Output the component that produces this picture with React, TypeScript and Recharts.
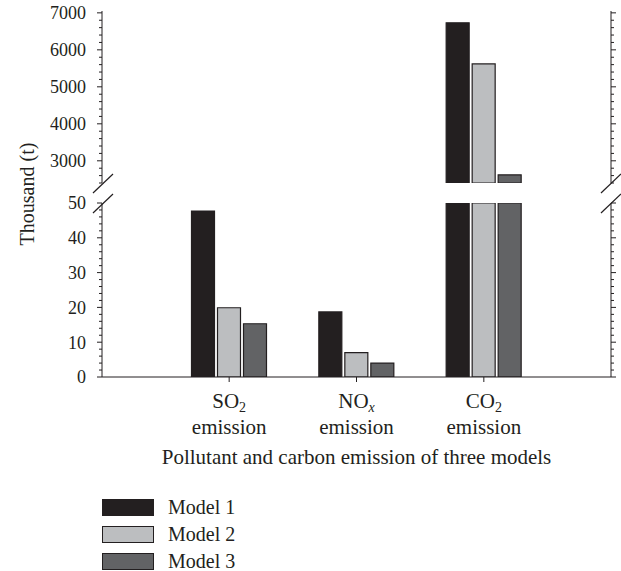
import { Bar, BarChart, XAxis, YAxis } from 'recharts';

// emission per model, thousand tonnes
const categories = ['SO2', 'NOx', 'CO2'];
const model1 = [47.7, 18.7, 6730];
const model2 = [19.9, 7.0, 5620];
const model3 = [15.3, 4.0, 2620];

const lowerLabels = [0, 10, 20, 30, 40, 50];
const upperLabels = [3000, 4000, 5000, 6000, 7000];

// broken axis
const LOWER_MAX = 50;
const UPPER_MIN = 2400;
const UPPER_MAX = 7050;

const INK = '#231f20';
const FONT = 'Liberation Serif, Times New Roman, serif';

const lowerTicks: number[] = [];
for (let v = 0; v <= LOWER_MAX; v += 2) lowerTicks.push(v);
const upperTicks: number[] = [];
for (let v = UPPER_MIN; v <= 7000; v += 200) upperTicks.push(v);

const models = [
  { key: 'm1', name: 'Model 1', values: model1, fill: '#231f20' },
  { key: 'm2', name: 'Model 2', values: model2, fill: '#bcbec0' },
  { key: 'm3', name: 'Model 3', values: model3, fill: '#626365' },
];

const lowerData = categories.map((name, i) => {
  const row: any = { name };
  models.forEach((m) => (row[m.key] = Math.min(m.values[i], LOWER_MAX)));
  return row;
});

const upperData = categories.map((name, i) => {
  const row: any = { name };
  models.forEach((m) => (row[m.key] = m.values[i] >= UPPER_MIN ? m.values[i] : null));
  return row;
});

const LeftTick = (props: any) => {
  const { x, y, payload, labels } = props;
  const major = labels.includes(payload.value);
  return (
    <g>
      <line x1={x - (major ? 5 : 3)} x2={x} y1={y} y2={y} stroke={INK} strokeWidth={1} />
      {major && (
        <text x={x - 16} y={y} dy="0.35em" textAnchor="end" fill={INK} fontSize={18} fontFamily={FONT}>
          {payload.value}
        </text>
      )}
    </g>
  );
};

const RightTick = (props: any) => {
  const { x, y, payload, labels } = props;
  const major = labels.includes(payload.value);
  return <line x1={x} x2={x + (major ? 5 : 3)} y1={y} y2={y} stroke={INK} strokeWidth={1} />;
};

const CategoryTick = (props: any) => {
  const { x, y, payload } = props;
  const name: string = payload.value;
  const base = name.slice(0, -1);
  const sub = name.slice(-1);
  return (
    <g fill={INK} fontFamily={FONT}>
      <text x={x} y={y + 26} textAnchor="middle" fontSize={21}>
        <tspan>{base}</tspan>
        <tspan dy={4} fontSize={14} fontStyle={sub === 'x' ? 'italic' : 'normal'}>
          {sub}
        </tspan>
      </text>
      <text x={x} y={y + 52} textAnchor="middle" fontSize={21}>
        emission
      </text>
    </g>
  );
};

const bars = () =>
  models.map((m) => (
    <Bar
      key={m.key}
      dataKey={m.key}
      name={m.name}
      yAxisId="left"
      fill={m.fill}
      stroke={INK}
      strokeWidth={1.2}
      barSize={23}
      isAnimationActive={false}
    />
  ));

const pad = { left: 63.5, right: 63.5 };

export default function App() {
  return (
    <div style={{ position: 'absolute', left: 0, top: 0, width: 621, height: 571, background: '#fff' }}>
      {/* upper panel */}
      <div style={{ position: 'absolute', left: 0, top: 0 }}>
        <BarChart
          width={621}
          height={184}
          data={upperData}
          margin={{ top: 11, right: 0, left: 0, bottom: 1 }}
          barGap={3}
        >
          <XAxis dataKey="name" hide padding={pad} />
          <XAxis
            xAxisId="top"
            dataKey="name"
            orientation="top"
            height={0}
            tick={false}
            tickLine={false}
            axisLine={{ stroke: INK }}
            padding={pad}
          />
          <YAxis
            yAxisId="left"
            width={102}
            domain={[UPPER_MIN, UPPER_MAX]}
            allowDataOverflow
            ticks={upperTicks}
            interval={0}
            tickLine={false}
            tickSize={0}
            tickMargin={0}
            axisLine={{ stroke: INK }}
            tick={(p: any) => <LeftTick {...p} labels={upperLabels} />}
          />
          <YAxis
            yAxisId="right"
            orientation="right"
            width={10}
            domain={[UPPER_MIN, UPPER_MAX]}
            allowDataOverflow
            ticks={upperTicks}
            interval={0}
            tickLine={false}
            tickSize={0}
            tickMargin={0}
            axisLine={{ stroke: INK }}
            tick={(p: any) => <RightTick {...p} labels={upperLabels} />}
          />
          {bars()}
        </BarChart>
      </div>

      {/* lower panel */}
      <div style={{ position: 'absolute', left: 0, top: 190 }}>
        <BarChart
          width={621}
          height={290}
          data={lowerData}
          margin={{ top: 13, right: 0, left: 0, bottom: 0 }}
          barGap={3}
        >
          <XAxis
            dataKey="name"
            height={103}
            padding={pad}
            tickSize={5}
            tickMargin={0}
            tickLine={{ stroke: INK }}
            axisLine={{ stroke: INK }}
            tick={(p: any) => <CategoryTick {...p} />}
            label={{
              value: 'Pollutant and carbon emission of three models',
              position: 'insideBottom',
              offset: 16,
              fill: INK,
              fontSize: 21,
              fontFamily: FONT,
            }}
          />
          <YAxis
            yAxisId="left"
            width={102}
            domain={[0, LOWER_MAX]}
            allowDataOverflow
            ticks={lowerTicks}
            interval={0}
            tickLine={false}
            tickSize={0}
            tickMargin={0}
            axisLine={{ stroke: INK }}
            tick={(p: any) => <LeftTick {...p} labels={lowerLabels} />}
          />
          <YAxis
            yAxisId="right"
            orientation="right"
            width={10}
            domain={[0, LOWER_MAX]}
            allowDataOverflow
            ticks={lowerTicks}
            interval={0}
            tickLine={false}
            tickSize={0}
            tickMargin={0}
            axisLine={{ stroke: INK }}
            tick={(p: any) => <RightTick {...p} labels={lowerLabels} />}
          />
          {bars()}
        </BarChart>
      </div>

      {/* axis break marks and y-axis title */}
      <svg
        width={621}
        height={571}
        style={{ position: 'absolute', left: 0, top: 0, pointerEvents: 'none' }}
      >
        <g stroke={INK} strokeWidth={1.2}>
          <line x1={93} y1={193} x2={113} y2={174} />
          <line x1={93} y1={213} x2={113} y2={194} />
          <line x1={601} y1={193} x2={621} y2={174} />
          <line x1={601} y1={213} x2={621} y2={194} />
        </g>
        <text
          x={27}
          y={194}
          transform="rotate(-90 27 194)"
          textAnchor="middle"
          dy="0.35em"
          fill={INK}
          fontSize={20}
          fontFamily={FONT}
        >
          Thousand (t)
        </text>
      </svg>

      {/* legend */}
      <div style={{ position: 'absolute', left: 102, top: 494, fontFamily: FONT, fontSize: 20, color: INK }}>
        {models.map((m) => (
          <div key={m.key} style={{ display: 'flex', alignItems: 'center', height: 27 }}>
            <div
              style={{
                width: 50,
                height: 15,
                background: m.fill,
                border: `1px solid ${INK}`,
                marginRight: 14,
              }}
            />
            <span>{m.name}</span>
          </div>
        ))}
      </div>
    </div>
  );
}
